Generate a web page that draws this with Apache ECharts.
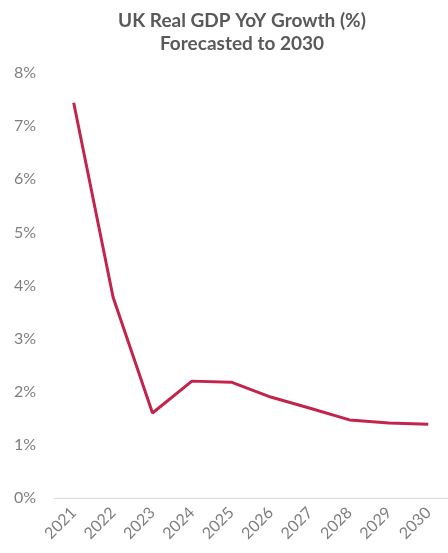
<!DOCTYPE html>
<html>
<head>
<meta charset="utf-8">
<script src="https://cdn.jsdelivr.net/npm/echarts@6/dist/echarts.min.js"></script>
<style>
html,body{margin:0;padding:0;background:#fff;}
#chart{width:448px;height:553px;}
</style>
</head>
<body>
<div id="chart"></div>
<script>
const years = ['2021','2022','2023','2024','2025','2026','2027','2028','2029','2030'];
const growth = [7.44, 3.78, 1.60, 2.20, 2.18, 1.90, 1.69, 1.47, 1.41, 1.39];
const yTicks = [0, 1, 2, 3, 4, 5, 6, 7, 8];
const titleText = 'UK Real GDP YoY Growth (%)\nForecasted to 2030';

const chart = echarts.init(document.getElementById('chart'), null, {renderer: 'canvas'});
chart.setOption({
  backgroundColor: '#ffffff',
  animation: false,
  title: {
    text: titleText,
    left: 237,
    textAlign: 'center',
    top: 4,
    textStyle: {
      fontFamily: 'Lato',
      fontWeight: 'bold',
      fontSize: 19,
      color: '#595959',
      lineHeight: 23
    }
  },
  grid: {left: 54, right: -5, top: 73, bottom: 55, containLabel: false},
  xAxis: {
    type: 'category',
    data: years,
    boundaryGap: true,
    axisLine: {show: true, lineStyle: {color: '#d9d9d9', width: 1}},
    axisTick: {show: false},
    axisLabel: {
      rotate: 45,
      margin: 12,
      color: '#7f7f7f',
      fontFamily: 'Lato',
      fontSize: 16
    },
    splitLine: {show: false}
  },
  yAxis: {
    type: 'value',
    min: yTicks[0],
    max: yTicks[yTicks.length - 1],
    interval: 1,
    axisLine: {show: false},
    axisTick: {show: false},
    splitLine: {show: false},
    axisLabel: {
      margin: 18,
      color: '#7f7f7f',
      fontFamily: 'Lato',
      fontSize: 16,
      formatter: v => v + '%'
    }
  },
  series: [{
    type: 'line',
    data: growth,
    symbol: 'none',
    lineStyle: {color: '#C2244C', width: 3},
    itemStyle: {color: '#C2244C'}
  }]
});
</script>
</body>
</html>
